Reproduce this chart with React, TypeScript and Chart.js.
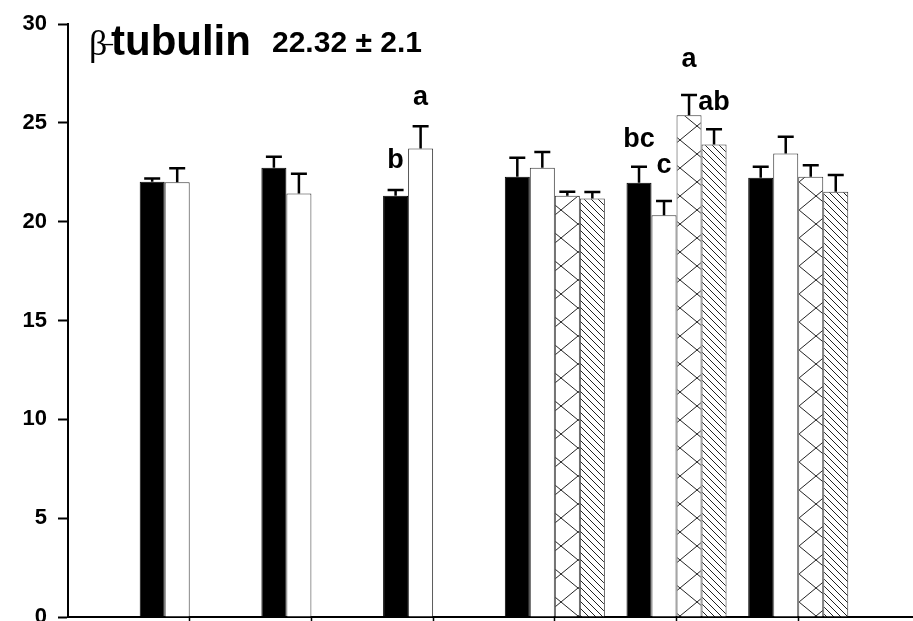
import React, { useEffect, useRef } from "react";
import { Chart, registerables } from "chart.js";

Chart.register(...registerables);

// ---- data ----
const groups = [1, 2, 3, 4, 5, 6];
const yTicks = [0, 5, 10, 15, 20, 25, 30];
const blackVals = [22.02, 22.73, 21.31, 22.27, 21.97, 22.22];
const blackErr = [0.17, 0.55, 0.29, 0.96, 0.81, 0.56];
const whiteVals = [22.0, 21.43, 23.7, 22.73, 20.33, 23.45];
const whiteErr = [0.7, 1.0, 1.13, 0.8, 0.71, 0.84];
const crossVals = [null, null, null, 21.31, 25.38, 22.27];
const crossErr = [null, null, null, 0.2, 1.03, 0.58];
const diagVals = [null, null, null, 21.17, 23.91, 21.51];
const diagErr = [null, null, null, 0.33, 0.76, 0.85];

// significance letters: [group index, dataset index, y (data units, baseline), text]
const letterGroup = [2, 2, 4, 4, 4, 4];
const letterSeries = [0, 1, 0, 1, 2, 3];
const letterY = [22.7, 25.9, 23.8, 22.45, 27.84, 25.65];
const letterText = ["b", "a", "bc", "c", "a", "ab"];

const titleMain = "tubulin";
const titleBeta = "β";
const titleDash = "–";
const titleValue = "22.32 ± 2.1";

const FONT = '"Liberation Sans", Arial, sans-serif';

function makeCross(): CanvasPattern | string {
  const c = document.createElement("canvas");
  c.width = 34;
  c.height = 28;
  const g = c.getContext("2d");
  if (!g) return "#fff";
  g.fillStyle = "#fff";
  g.fillRect(0, 0, 34, 28);
  g.strokeStyle = "#222";
  g.lineWidth = 1;
  g.beginPath();
  g.moveTo(0, 0);
  g.lineTo(34, 28);
  g.moveTo(0, 28);
  g.lineTo(34, 0);
  g.stroke();
  return g.createPattern(c, "repeat") || "#fff";
}

function makeDiag(): CanvasPattern | string {
  const s = 7;
  const c = document.createElement("canvas");
  c.width = s;
  c.height = s;
  const g = c.getContext("2d");
  if (!g) return "#fff";
  g.fillStyle = "#fff";
  g.fillRect(0, 0, s, s);
  g.strokeStyle = "#222";
  g.lineWidth = 1;
  g.beginPath();
  g.moveTo(-1, -1);
  g.lineTo(s + 1, s + 1);
  g.moveTo(-1, s - 1);
  g.lineTo(1, s + 1);
  g.moveTo(s - 1, -1);
  g.lineTo(s + 1, 1);
  g.stroke();
  return g.createPattern(c, "repeat") || "#fff";
}

const errArrays = [blackErr, whiteErr, crossErr, diagErr];

const errorBarPlugin = {
  id: "errorBars",
  afterDatasetsDraw(chart: any) {
    const ctx = chart.ctx;
    const yScale = chart.scales.y;
    ctx.save();
    ctx.strokeStyle = "#000";
    ctx.lineWidth = 2.5;
    chart.data.datasets.forEach((ds: any, di: number) => {
      const meta = chart.getDatasetMeta(di);
      meta.data.forEach((bar: any, i: number) => {
        const v = ds.data[i].y;
        const e = errArrays[di][i];
        if (v == null || e == null) return;
        const x = bar.x;
        const yTop = yScale.getPixelForValue(v);
        const yCap = yScale.getPixelForValue(v + e);
        ctx.beginPath();
        ctx.moveTo(x, yTop);
        ctx.lineTo(x, yCap);
        ctx.moveTo(x - 8, yCap);
        ctx.lineTo(x + 8, yCap);
        ctx.stroke();
      });
    });
    // letters
    ctx.fillStyle = "#000";
    ctx.font = `bold 27px ${FONT}`;
    ctx.textAlign = "center";
    ctx.textBaseline = "alphabetic";
    letterText.forEach((t, k) => {
      const meta = chart.getDatasetMeta(letterSeries[k]);
      const bar = meta.data[letterGroup[k]];
      if (!bar) return;
      ctx.fillText(t, bar.x, yScale.getPixelForValue(letterY[k]));
    });
    // title
    ctx.textAlign = "left";
    ctx.font = `36px "Liberation Serif", serif`;
    ctx.fillText(titleBeta, 89, 55);
    ctx.font = `bold 42px ${FONT}`;
    ctx.fillText(titleMain, 111, 55);
    ctx.font = `20px ${FONT}`;
    ctx.fillText(titleDash, 102, 50);
    ctx.font = `bold 30px ${FONT}`;
    ctx.fillText(titleValue, 272, 52);
    ctx.restore();
  },
};

export default function App() {
  const ref = useRef<HTMLCanvasElement | null>(null);
  useEffect(() => {
    if (!ref.current) return;
    const toPts = (arr: (number | null)[]) =>
      arr.map((v, i) => ({ x: groups[i], y: v }));
    const cross = makeCross();
    const diag = makeDiag();
    const chart = new Chart(ref.current, {
      type: "bar",
      data: {
        datasets: [
          {
            label: "black",
            data: toPts(blackVals),
            backgroundColor: "#000",
            borderColor: "#000",
            borderWidth: 1,
          },
          {
            label: "white",
            data: toPts(whiteVals),
            backgroundColor: "#fff",
            borderColor: "#333",
            borderWidth: 1,
          },
          {
            label: "cross",
            data: toPts(crossVals),
            backgroundColor: cross as any,
            borderColor: "#333",
            borderWidth: 1,
          },
          {
            label: "diag",
            data: toPts(diagVals),
            backgroundColor: diag as any,
            borderColor: "#333",
            borderWidth: 1,
          },
        ] as any,
      },
      options: {
        animation: false,
        responsive: false,
        maintainAspectRatio: false,
        layout: { padding: { top: 24, left: 0, right: 0, bottom: 0 } },
        plugins: {
          legend: { display: false },
          tooltip: { enabled: false },
          title: { display: false },
        },
        datasets: {
          bar: { barPercentage: 1, categoryPercentage: 0.822 },
        } as any,
        scales: {
          x: {
            type: "linear",
            min: 0,
            max: 6.943,
            offset: false,
            afterBuildTicks: (s: any) => {
              s.ticks = groups.map((g) => ({ value: g }));
            },
            afterFit: (s: any) => {
              s.height = 4;
              s.paddingLeft = 0;
              s.paddingRight = 0;
            },
            ticks: { display: false },
            grid: {
              offset: false,
              drawOnChartArea: false,
              tickLength: 4,
              tickWidth: 1.5,
              tickColor: "#000",
            },
            border: { display: true, color: "#000", width: 2 },
          } as any,
          y: {
            min: 0,
            max: 30,
            afterBuildTicks: (s: any) => {
              s.ticks = yTicks.map((v) => ({ value: v }));
            },
            afterFit: (s: any) => {
              s.width = 68;
              s.paddingTop = 0;
              s.paddingBottom = 0;
            },
            ticks: {
              color: "#000",
              padding: 11,
              font: { family: FONT, size: 22, weight: "bold" },
            },
            grid: {
              drawOnChartArea: false,
              tickLength: 10,
              tickWidth: 2,
              tickColor: "#000",
            },
            border: { display: true, color: "#000", width: 2 },
          } as any,
        },
      },
      plugins: [errorBarPlugin],
    });
    return () => chart.destroy();
  }, []);
  return (
    <div style={{ position: "fixed", left: 0, top: 0, width: 913, height: 621, background: "#fff" }}>
      <canvas ref={ref} width={913} height={621} style={{ display: "block" }} />
    </div>
  );
}
